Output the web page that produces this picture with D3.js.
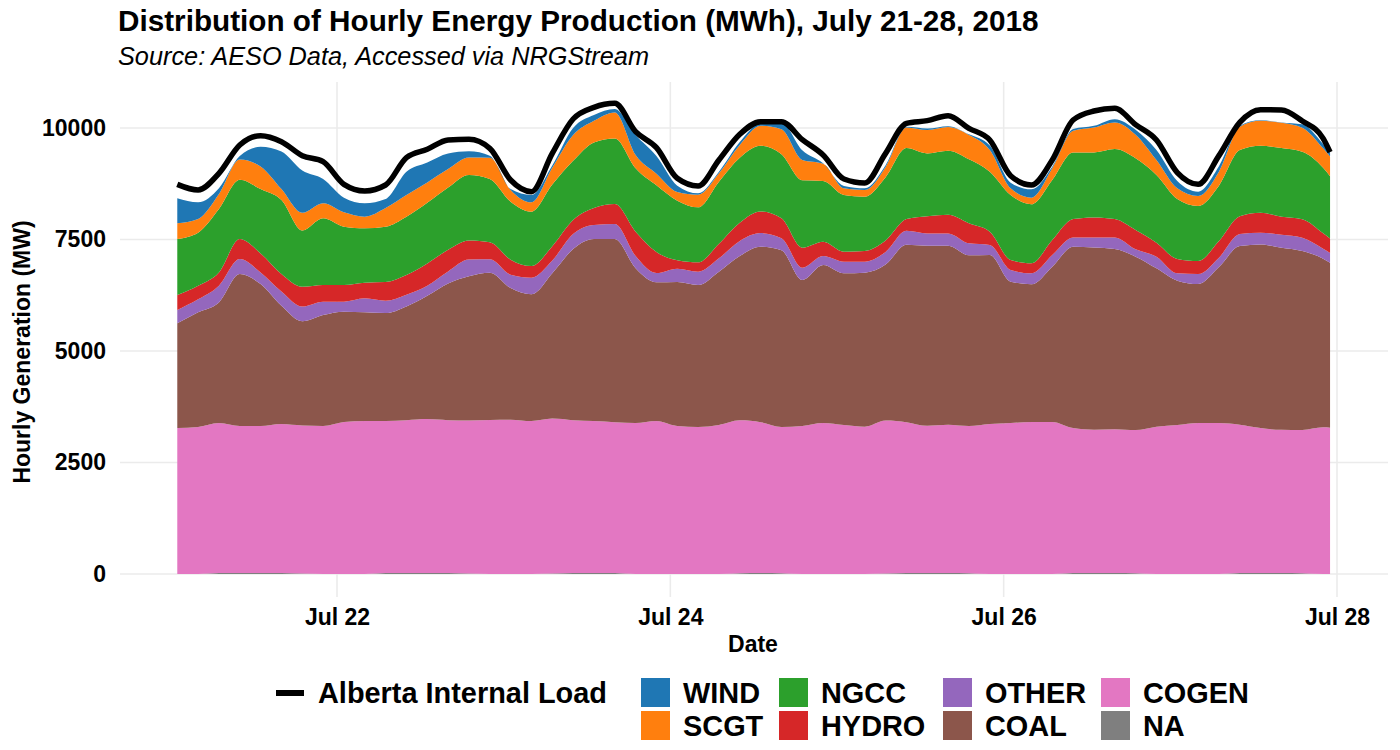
<!DOCTYPE html>
<html><head><meta charset="utf-8">
<script src="https://cdn.jsdelivr.net/npm/d3@7"></script>
<style>
body{margin:0;background:#fff}
svg text{font-family:"Liberation Sans",Arial,sans-serif;fill:#000}
</style>
</head><body>
<svg id="c" width="1400" height="750"></svg>
<script>
// ---- data (MW), every 3 hours, Jul 21 01:00 -> Jul 27 23:00 ----
const times = [
"2018-07-21 01:00","2018-07-21 04:00","2018-07-21 07:00","2018-07-21 10:00","2018-07-21 13:00","2018-07-21 16:00","2018-07-21 19:00","2018-07-21 22:00",
"2018-07-22 01:00","2018-07-22 04:00","2018-07-22 07:00","2018-07-22 10:00","2018-07-22 13:00","2018-07-22 16:00","2018-07-22 19:00","2018-07-22 22:00",
"2018-07-23 01:00","2018-07-23 04:00","2018-07-23 07:00","2018-07-23 10:00","2018-07-23 13:00","2018-07-23 16:00","2018-07-23 19:00","2018-07-23 22:00",
"2018-07-24 01:00","2018-07-24 04:00","2018-07-24 07:00","2018-07-24 10:00","2018-07-24 13:00","2018-07-24 16:00","2018-07-24 19:00","2018-07-24 22:00",
"2018-07-25 01:00","2018-07-25 04:00","2018-07-25 07:00","2018-07-25 10:00","2018-07-25 13:00","2018-07-25 16:00","2018-07-25 19:00","2018-07-25 22:00",
"2018-07-26 01:00","2018-07-26 04:00","2018-07-26 07:00","2018-07-26 10:00","2018-07-26 13:00","2018-07-26 16:00","2018-07-26 19:00","2018-07-26 22:00",
"2018-07-27 01:00","2018-07-27 04:00","2018-07-27 07:00","2018-07-27 10:00","2018-07-27 13:00","2018-07-27 16:00","2018-07-27 19:00","2018-07-27 22:00",
"2018-07-27 23:00"];

const WIND = [560,373,130,75,441,844,949,546, 329,299,202,524,449,352,142,45, 22,165,52,157,127,75,448,396,
  142,30,37,67,52,150,216,8, 53,37,37,15,37,22,15,100, 127,187,37,37,37,74,112,224, 165,98,120,22,10,8,74,97, 100];
const SCGT = [352,307,336,456,508,247,396,336, 321,262,419,485,456,411,388,478, 262,209,374,576,486,583,299,261,
  194,284,187,284,448,560,456,388, 149,150,232,464,523,531,545,486, 149,149,262,486,561,598,531,337, 239,224,314,524,560,568,539,433, 440];
const NGCC = [1255,1188,1421,1330,1443,1659,1263,1495, 1308,1218,1240,1308,1360,1397,1472,1420, 1300,1218,1383,1330,1472,1472,1420,1495,
  1338,1233,1390,1457,1473,1435,1510,1361, 1271,1218,1419,1592,1406,1435,1435,1345, 1458,1323,1345,1495,1457,1570,1607,1517, 1345,1233,1240,1480,1503,1539,1517,1473, 1400];
const HYDRO = [337,307,298,449,426,389,441,374, 374,351,419,441,500,486,427,382, 336,262,321,314,381,449,546,471,
  187,209,329,412,486,449,449,321, 224,239,255,261,388,418,449,299, 224,225,337,411,449,411,433,314, 322,292,374,403,448,404,411,343, 320];
const OTHER = [299,291,374,336,261,321,329,299, 224,314,276,262,225,269,373,299, 299,373,284,336,314,336,277,209,
  299,299,299,336,306,269,276,202, 262,247,284,314,277,277,269,225, 261,246,261,209,224,261,165,262, 164,224,210,269,262,291,299,225, 220];
const COAL = [2347,2571,2706,3408,3184,2653,2340,2489, 2474,2437,2422,2549,2765,3065,3237,3303, 2953,2841,3259,3835,4081,4104,3468,3110,
  3229,3184,3438,3685,3932,3961,3274,3543, 3400,3453,3498,3977,4036,4013,3827,3789, 3170,3087,3483,4066,4089,4037,3887,3550, 3236,3117,3498,4006,4118,4082,4014,3782, 3700];
const COGEN = [3273,3296,3363,3296,3296,3341,3318,3318, 3408,3430,3408,3430,3453,3430,3430,3453, 3460,3430,3475,3430,3408,3385,3385,3430,
  3318,3296,3341,3430,3385,3281,3318,3385, 3341,3303,3430,3385,3303,3326,3303,3363, 3385,3408,3408,3251,3213,3228,3213,3303, 3341,3385,3385,3326,3251,3213,3213,3288, 3280];
const NA_ = [0,0,20,20,20,20,10,0, 0,0,20,20,20,20,10,0, 0,0,10,20,20,20,0,0,
  0,0,0,15,20,15,0,0, 0,0,10,20,20,20,15,0, 0,0,0,20,20,20,15,0, 0,0,0,20,20,20,15,0, 0];
const LOAD = [8737,8610,8984,9619,9828,9694,9380,9245, 8737,8588,8722,9335,9522,9731,9746,9544, 8834,8573,9432,10202,10463,10553,9918,9559,
  8872,8700,9283,9858,10142,10142,9740,9395, 8857,8767,9432,10105,10165,10277,9993,9731, 8931,8722,9283,10179,10381,10441,10075,9731,
  8999,8737,9380,10127,10411,10404,10157,9768, 9460];

const categories = ["WIND","SCGT","NGCC","HYDRO","OTHER","COAL","COGEN","NA"];
const colors = ["#1f77b4","#ff7f0e","#2ca02c","#d62728","#9467bd","#8c564b","#e377c2","#7f7f7f"];
const seriesValues = {WIND, SCGT, NGCC, HYDRO, OTHER, COAL, COGEN, NA: NA_};
const yTicks = [0, 2500, 5000, 7500, 10000];
const xTickDates = ["2018-07-22 00:00","2018-07-24 00:00","2018-07-26 00:00","2018-07-28 00:00"];
const loadLabel = "Alberta Internal Load";

// ---- build ----
const parse = d3.timeParse("%Y-%m-%d %H:%M");
const rows = times.map((t, i) => {
  const r = {date: parse(t), load: LOAD[i]};
  categories.forEach(c => r[c] = seriesValues[c][i]);
  return r;
});

const svg = d3.select("#c");
const panel = {left: 120, right: 1388, top: 82, bottom: 597};

const x = d3.scaleTime()
  .domain([parse(xTickDates[0]), parse(xTickDates[3])])
  .range([337, 1337]);
const y = d3.scaleLinear().domain([0, 10000]).range([574, 128]);

// grid
const g = svg.append("g");
g.selectAll("line.h").data(yTicks).join("line")
  .attr("x1", panel.left).attr("x2", panel.right)
  .attr("y1", d => y(d)).attr("y2", d => y(d))
  .attr("stroke", "#ebebeb").attr("stroke-width", 1.6);
g.selectAll("line.v").data(xTickDates).join("line")
  .attr("y1", panel.top).attr("y2", panel.bottom)
  .attr("x1", d => x(parse(d))).attr("x2", d => x(parse(d)))
  .attr("stroke", "#ebebeb").attr("stroke-width", 1.6);

// stacked areas (bottom to top: NA, COGEN, COAL, ...)
const stackKeys = categories.slice().reverse();
const stack = d3.stack().keys(stackKeys);
const layers = stack(rows);
const area = d3.area()
  .x(d => x(d.data.date))
  .y0(d => y(d[0]))
  .y1(d => y(d[1]))
  .curve(d3.curveMonotoneX);
svg.append("g").selectAll("path").data(layers).join("path")
  .attr("d", area)
  .attr("fill", d => colors[categories.indexOf(d.key)]);

// load line
const line = d3.line().x(d => x(d.date)).y(d => y(d.load)).curve(d3.curveMonotoneX);
svg.append("path").datum(rows).attr("d", line)
  .attr("fill", "none").attr("stroke", "#000").attr("stroke-width", 5.5)
  .attr("stroke-linejoin", "round");

// axes
const yAxis = d3.axisLeft(y).tickValues(yTicks).tickSize(0).tickPadding(14).tickFormat(d3.format("d"));
const ya = svg.append("g").attr("transform", `translate(${panel.left},0)`).call(yAxis);
ya.select(".domain").remove();
ya.selectAll("text").attr("font-size", 23).attr("font-weight", "bold")
  .attr("font-family", "Liberation Sans, Arial, sans-serif").attr("fill", "#000");

const xAxis = d3.axisBottom(x).tickValues(xTickDates.map(parse)).tickSize(0).tickPadding(12)
  .tickFormat(d3.timeFormat("%b %d"));
const xa = svg.append("g").attr("transform", `translate(0,${panel.bottom})`).call(xAxis);
xa.select(".domain").remove();
xa.selectAll("text").attr("font-size", 23).attr("font-weight", "bold")
  .attr("font-family", "Liberation Sans, Arial, sans-serif").attr("fill", "#000");

// titles
svg.append("text").attr("x", 118).attr("y", 31).attr("font-size", 29.7).attr("font-weight", "bold")
  .text("Distribution of Hourly Energy Production (MWh), July 21-28, 2018");
svg.append("text").attr("x", 118).attr("y", 65).attr("font-size", 25.3).attr("font-style", "italic")
  .text("Source: AESO Data, Accessed via NRGStream");
svg.append("text").attr("x", 753).attr("y", 652).attr("text-anchor", "middle")
  .attr("font-size", 23).attr("font-weight", "bold").text("Date");
svg.append("text").attr("transform", "translate(30,352) rotate(-90)").attr("text-anchor", "middle")
  .attr("font-size", 23).attr("font-weight", "bold").text("Hourly Generation (MW)");

// legend
const leg = svg.append("g");
leg.append("line").attr("x1", 276).attr("x2", 304).attr("y1", 693).attr("y2", 693)
  .attr("stroke", "#000").attr("stroke-width", 6);
leg.append("text").attr("x", 318).attr("y", 703).attr("font-size", 28.9).attr("font-weight", "bold").text(loadLabel);
const colX = [641, 779, 943, 1101];
categories.forEach((c, i) => {
  const col = Math.floor(i / 2), row = i % 2;
  const kx = colX[col], ky = 678 + row * 33;
  leg.append("rect").attr("x", kx).attr("y", ky).attr("width", 29).attr("height", 29).attr("fill", colors[i]);
  leg.append("text").attr("x", kx + 42).attr("y", ky + 25).attr("font-size", 28.9).attr("font-weight", "bold").text(c);
});
</script>
</body></html>
